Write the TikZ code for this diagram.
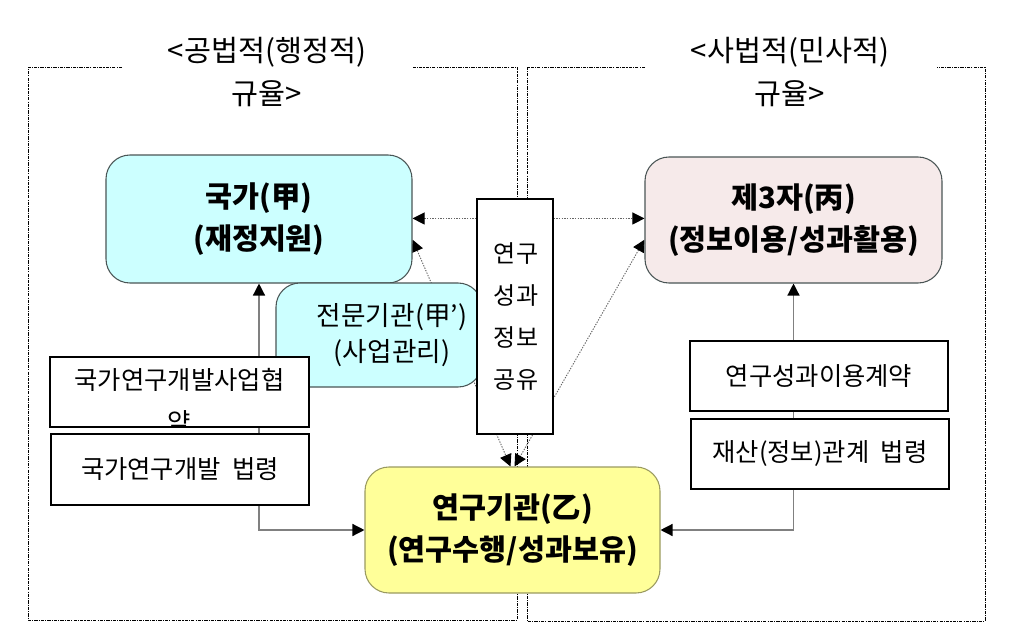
\documentclass[tikz,border=0pt]{standalone}
\usepackage{fontspec}
\setmainfont{Noto Sans CJK KR}
\usetikzlibrary{arrows.meta,fit,calc}
\pgfdeclarelayer{back}
\pgfdeclarelayer{midlayer}
\pgfsetlayers{back,midlayer,main}
\definecolor{cyanfill}{HTML}{CCFFFF}
\definecolor{pinkfill}{HTML}{F6EAEA}
\definecolor{yellowfill}{HTML}{FFFF99}
\definecolor{yellowline}{HTML}{9A9A60}
\definecolor{boxline}{HTML}{4A5555}
\begin{document}
\begin{tikzpicture}[x=0.75pt,y=-0.75pt,
  >={Triangle[length=9pt,width=9pt,color=black]},
  rbox/.style={draw=boxline, line width=0.8pt, rounded corners=18pt, inner sep=0pt},
  sbox/.style={draw=black, line width=0.8pt, fill=white, inner sep=0pt},
  txtbig/.style={font=\fontsize{22}{31.5}\selectfont\bfseries, align=center},
  txtsmall/.style={font=\fontsize{19}{31.5}\selectfont, align=center},
  txtmgr/.style={font=\fontsize{20}{27}\selectfont, align=center},
  txtshare/.style={font=\fontsize{18}{31.5}\selectfont, align=center},
  txttitle/.style={font=\fontsize{22}{32.25}\selectfont, align=center},
  frame/.style={draw=black, line width=0.6pt, dash pattern=on 2.5pt off 0.8pt on 0.8pt off 0.8pt},
  dotl/.style={draw=black!60, line width=0.7pt, dash pattern=on 1pt off 1pt},
  gline/.style={draw=black!50, line width=1pt}]
\useasboundingbox (0,0) rectangle (1011,636);

% titles
\node[txttitle] (titleL) at (267,72) {<공법적(행정적)\\규율>};
\node[txttitle] (titleR) at (790,72) {<사법적(민사적)\\규율>};

% main boxes
\node[rbox, fill=cyanfill, fit={(106,155)(412,283)}] (gukga) {};
\node[txtbig] (gukgaT) at (gukga.center) {국가(甲)\\(재정지원)};

\node[rbox, fill=pinkfill, fit={(645,157)(942,283)}] (third) {};
\node[txtbig] (thirdT) at (third.center) {제3자(丙)\\(정보이용/성과활용)};

\node[rbox, draw=yellowline, fill=yellowfill, fit={(365,467)(660,593)}] (yeon) {};
\node[txtbig] (yeonT) at (yeon.center) {연구기관(乙)\\(연구수행/성과보유)};

\node[rbox, fill=cyanfill, fit={(276,283)(482,387)}] (mgr) {};
\node[txtmgr] (mgrT) at (392,335) {전문기관(甲’)\\(사업관리)};

\node[sbox, fit={(477,199)(553,434)}] (share) {};
\node[txtshare] (shareT) at (516,317) {연구\\성과\\정보\\공유};

% rule boxes
\node[sbox, fit={(50,357)(309,427)}] (hyeob) {};
\begin{scope}
\clip (hyeob.north west) rectangle (hyeob.south east);
\node[txtsmall] (hyeobT) at ($(hyeob.center)+(0,9)$) {국가연구개발사업협\\약};
\end{scope}
\node[sbox, fit={(51,434)(309,505)}] (lawL) {};
\node[txtsmall] (lawLT) at (lawL.center) {국가연구개발\hspace{0.45em}법령};

\node[sbox, fit={(690,341)(948,411)}] (contract) {};
\node[txtsmall] (contractT) at (contract.center) {연구성과이용계약};
\node[sbox, fit={(691,419)(949,489)}] (lawR) {};
\node[txtsmall] (lawRT) at (lawR.center) {재산(정보)관계\hspace{0.45em}법령};

% frames
\begin{pgfonlayer}{back}
\draw[frame] (122,67) -- (28,67) -- (28,620) -- (517,620) -- (517,67) -- (413,67);
\draw[frame] (645,67) -- (527,67) -- (527,621) -- (985,621) -- (985,67) -- (937,67);
\end{pgfonlayer}

% connectors
\begin{pgfonlayer}{midlayer}
\draw[gline,<->] (gukga.south) |- (yeon.west);
\draw[gline,<->] (third.south) |- (yeon.east);
\coordinate (s1) at ($(share.north west)+(0,20)$);
\coordinate (s2) at ($(share.north east)+(0,20)$);
\draw[dotl,->] (s1) -- (s1 -| gukga.east);
\draw[dotl,->] (s2) -- (s2 -| third.west);
\draw[dotl,<->] ($(gukga.north east)!0.66!(gukga.south east)$) -- ([xshift=-1.5pt]yeon.north);
\draw[dotl,<->] ($(third.north west)!0.655!(third.south west)$) -- ([xshift=1.5pt]yeon.north);
\end{pgfonlayer}
\end{tikzpicture}
\end{document}
